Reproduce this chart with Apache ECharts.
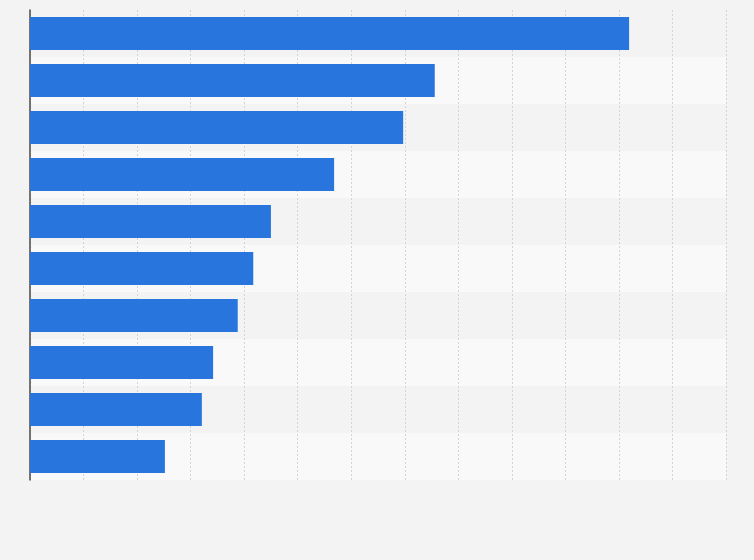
<!DOCTYPE html>
<html><head><meta charset="utf-8">
<script src="https://cdn.jsdelivr.net/npm/echarts@6/dist/echarts.min.js"></script>
<style>html,body{margin:0;padding:0;background:#f3f3f3}#c{width:754px;height:560px}</style>
</head><body><div id="c"></div>
<script>
const categories = ['A','B','C','D','E','F','G','H','I','J'];
const values = [111.9, 75.6, 69.7, 56.8, 45.0, 41.7, 38.8, 34.2, 32.1, 25.2];
const chart = echarts.init(document.getElementById('c'), null, {renderer:'canvas'});
chart.setOption({
  backgroundColor:'#f3f3f3',
  animation:false,
  grid:{left:30,right:28,top:10,bottom:80,containLabel:false},
  xAxis:{type:'value',min:0,max:130,interval:10,
    axisLabel:{show:false},axisLine:{show:false},axisTick:{show:false},
    splitLine:{show:true,lineStyle:{color:'#cfd4dd',type:[2,2],width:1}}},
  yAxis:{type:'category',data:categories,inverse:true,
    axisLabel:{show:false},axisTick:{show:false},
    axisLine:{show:true,lineStyle:{color:'#4a4a4a',width:1.5}},
    splitArea:{show:true,areaStyle:{color:['#f3f3f3','#f9f9f9']}}},
  series:[{type:'bar',data:values,barWidth:'70%',
    itemStyle:{color:'#2876dd'}}]
});
</script></body></html>
